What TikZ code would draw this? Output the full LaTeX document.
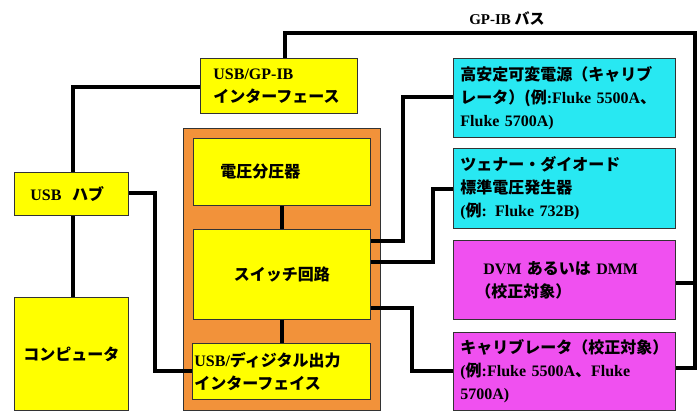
\documentclass[tikz,border=0pt]{standalone}
\usepackage{fontspec}
\setmainfont{Liberation Serif}[BoldFont=* Bold]
\newfontfamily\jp{Noto Sans CJK JP}
\definecolor{yel}{RGB}{255,255,0}
\definecolor{org}{RGB}{242,146,58}
\definecolor{cya}{RGB}{40,232,242}
\definecolor{mag}{RGB}{240,80,240}
\begin{document}
\begin{tikzpicture}[x=1pt,y=-1pt,
  box/.style={draw=black!80, line width=0.8pt, inner xsep=0pt, inner ysep=0pt, anchor=north west,
    font=\fontsize{16}{23}\selectfont\bfseries},
  wire/.style={line width=3.5pt, line join=miter},
]
\useasboundingbox (0,0) rectangle (700,412);
% left side
\node[box, fill=yel, minimum width=157pt, minimum height=55pt, align=left, text width=131pt, inner xsep=13pt] (gpib) at (200,58) {USB/GP-IB\\{\jp インターフェース}};
\node[box, fill=yel, minimum width=114pt, minimum height=43pt, align=left, text width=82pt, inner xsep=16pt] (hub) at (14,172) {USB\ \ {\jp ハブ}};
\node[box, fill=yel, minimum width=114pt, minimum height=113pt, align=center] (comp) at (14,297) {\jp コンピュータ};
% orange block
\node[box, fill=org, minimum width=197pt, minimum height=282pt] (orange) at (183,128) {};
\node[box, fill=yel, minimum width=177pt, minimum height=67pt, align=left, text width=123pt, inner xsep=27pt] (div) at (193,138) {\jp 電圧分圧器};
\node[box, fill=yel, minimum width=177pt, minimum height=90pt, align=center] (sw) at (193,229) {\jp スイッチ回路};
\node[box, fill=yel, minimum width=178pt, minimum height=56pt, align=left, text width=174pt, inner xsep=2pt] (usbd) at (192,343) {USB/{\jp ディジタル出力}\\{\jp インターフェイス}};
% right side
\node[box, fill=cya, minimum width=222pt, minimum height=79pt, align=left, text width=208pt, inner xsep=7pt] (c1) at (453,58) {{\jp 高安定可変電源（キャリブ}\\{\jp レータ）(例}:Fluke 5500A{\jp 、}\\Fluke 5700A)};
\node[box, fill=cya, minimum width=222pt, minimum height=80pt, align=left, text width=208pt, inner xsep=7pt] (c2) at (453,148) {{\jp ツェナー・ダイオード}\\{\jp 標準電圧発生器}\\({\jp 例}: Fluke 732B)};
\node[box, fill=mag, minimum width=222pt, minimum height=79pt, align=left, text width=192pt, inner xsep=15pt] (m1) at (453,240) {\hspace*{15pt}DVM {\jp あるいは} DMM\\\hspace*{7pt}{\jp （校正対象）}};
\node[box, fill=mag, minimum width=222pt, minimum height=78pt, align=left, text width=208pt, inner xsep=7pt] (m2) at (453,332) {{\jp キャリブレータ（校正対象）}\\({\jp 例}:Fluke 5500A{\jp 、}Fluke\\5700A)};
\node[font=\fontsize{15}{18}\selectfont\bfseries] (buslabel) at (507,18) {GP-IB {\jp バス}};
% named corner points
\coordinate (bA) at (285,33);
\coordinate (bB) at (695,33);
\coordinate (bC) at (695,368);
% wires
\draw[wire] (gpib.north -| bA) -- (bA) -- (bB) -- (bC) -- (m2.east |- bC);
\draw[wire] (m1.east |- 0,283) -- (695,283);
\draw[wire] (gpib.west |- 0,87) -| (hub.north -| 73,0);
\draw[wire] (hub.south -| 73,0) -- (comp.north -| 73,0);
\draw[wire] (hub.east |- 0,193) -| (155,371) -- (usbd.west |- 0,371);
\draw[wire] (div.south -| 282,0) -- (sw.north -| 282,0);
\draw[wire] (sw.south -| 282,0) -- (usbd.north -| 282,0);
\draw[wire] (sw.east |- 0,241) -| (403,97) -- (c1.west |- 0,97);
\draw[wire] (sw.east |- 0,262) -| (433,189) -- (c2.west |- 0,189);
\draw[wire] (sw.east |- 0,308) -| (412,371) -- (m2.west |- 0,371);
\end{tikzpicture}
\end{document}
